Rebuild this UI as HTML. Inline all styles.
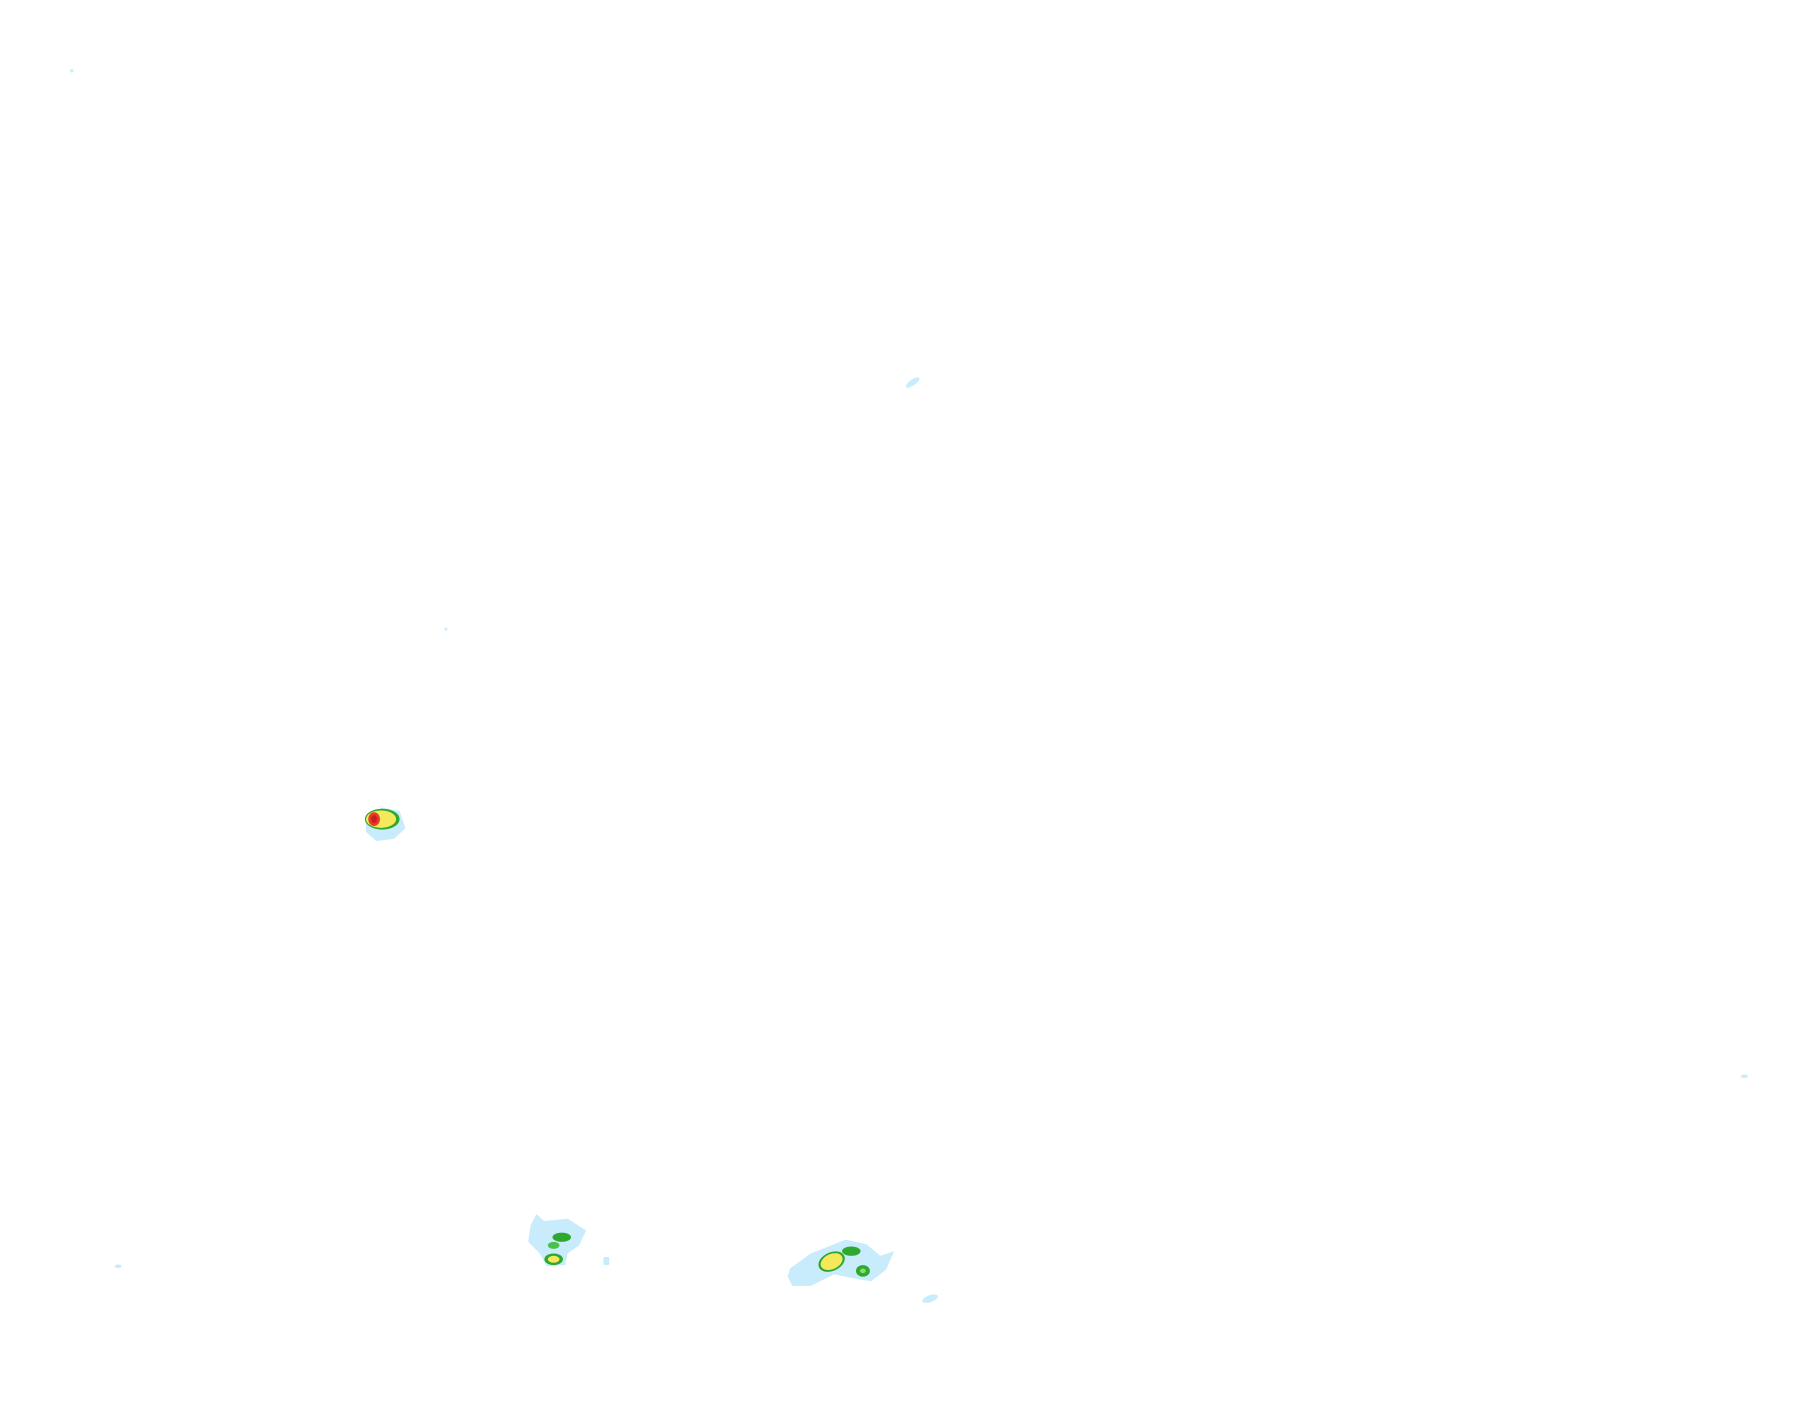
<!DOCTYPE html>
<html><head><meta charset="utf-8"><style>
html,body{margin:0;padding:0;background:#fff;}
svg{display:block;}
</style></head><body>
<svg width="1815" height="1424" viewBox="0 0 1567 1229" xmlns="http://www.w3.org/2000/svg">
<rect width="1567" height="1229" fill="#fff"/>
<g fill="#c8ecfb">
<circle cx="62" cy="61" r="1.5"/>
<ellipse cx="788" cy="330" rx="7" ry="2.5" transform="rotate(-35 788 330)"/>
<circle cx="385" cy="543" r="1.3"/>
<ellipse cx="1506" cy="929" rx="3" ry="1.5"/>
<ellipse cx="102" cy="1093" rx="3" ry="1.5"/>
<ellipse cx="803" cy="1121" rx="7" ry="3" transform="rotate(-20 803 1121)"/>
<rect x="521" y="1085" width="5" height="7" rx="1"/>
<path d="M316 704 L330 697 L345 700 L350 715 L340 724 L325 726 L316 718 Z"/>
<path d="M458 1058 L463 1048 L470 1054 L490 1052 L506 1062 L500 1075 L490 1082 L488 1092 L472 1093 L466 1082 L456 1072 Z"/>
<path d="M682 1095 L700 1082 L730 1070 L748 1074 L760 1084 L772 1080 L765 1096 L752 1106 L740 1104 L720 1100 L700 1110 L684 1110 L680 1102 Z"/>
</g>
<ellipse cx="330" cy="707" rx="15" ry="9" fill="#2ea82e"/>
<ellipse cx="329" cy="707" rx="13" ry="7.5" fill="#f5e85a"/>
<ellipse cx="323" cy="707" rx="5" ry="6" fill="#e83a2a"/>
<ellipse cx="323" cy="707" rx="2.5" ry="3.5" fill="#c82020"/>
<ellipse cx="485" cy="1068" rx="8" ry="4" fill="#2ea82e"/>
<ellipse cx="478" cy="1075" rx="5" ry="3" fill="#4cc04c"/>
<ellipse cx="478" cy="1087" rx="8" ry="5" fill="#2ea82e"/>
<ellipse cx="478" cy="1087" rx="5" ry="3" fill="#f5e85a"/>
<ellipse cx="735" cy="1080" rx="8" ry="4" fill="#2ea82e"/>
<ellipse cx="718" cy="1089" rx="12" ry="8" fill="#2ea82e" transform="rotate(-25 718 1089)"/>
<ellipse cx="718" cy="1089" rx="10" ry="6.5" fill="#f5e85a" transform="rotate(-25 718 1089)"/>
<ellipse cx="745" cy="1097" rx="6" ry="5" fill="#2ea82e"/>
<ellipse cx="745" cy="1097" rx="2.5" ry="2" fill="#8fd86a"/>
</svg>
</body></html>
